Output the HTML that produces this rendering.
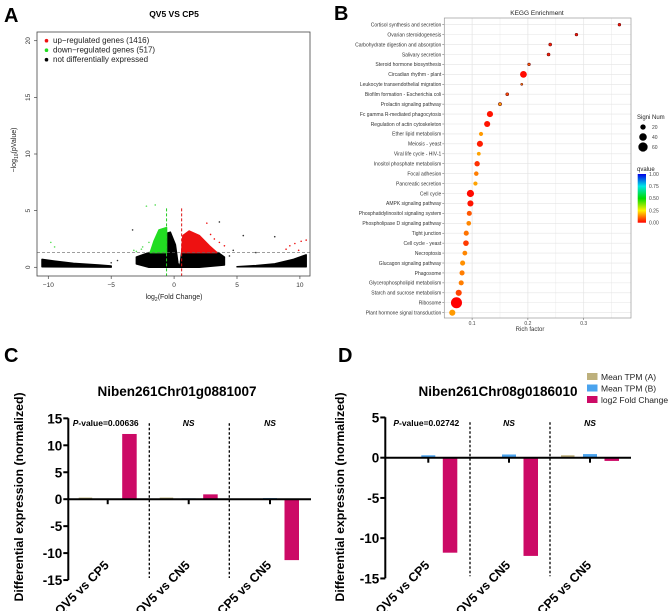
<!DOCTYPE html>
<html><head><meta charset="utf-8"><style>
html,body{margin:0;padding:0;background:#fff;overflow:hidden}
svg{display:block;font-family:"Liberation Sans",Arial,sans-serif}
</style></head><body>
<svg id="fig" width="672" height="611" viewBox="0 0 672 611" xmlns="http://www.w3.org/2000/svg">
<g id="pA"></g>
<g id="pB"></g>
<g id="pC"></g>
<g id="pD"></g>
</svg>
<script>
// ---------- Panel A data ----------
const volcanoBlack = [[-3,0.3],[-3,0.9],[-2,1.3],[-0.6,1.3],[-0.6,3.0],[-0.3,3.1],[0.1,2.0],[0.3,0.4],[0.4,0],[0.5,0.4],[0.6,1.3],[3.5,1.3],[4,0.9],[4,0.2],[2,0],[-2,0]];
const volcanoGreen = [[-1.9,1.3],[-1.6,2.3],[-1.2,3.3],[-0.6,3.5],[-0.6,1.3]];
const volcanoRed = [[0.6,1.3],[0.7,2.8],[1.2,3.2],[2,2.8],[2.8,1.9],[3.4,1.3]];
const volcanoLeftBand = [[-10.5,0.1],[-10.5,0.7],[-9.5,0.55],[-8,0.35],[-6,0.2],[-5,0.12],[-5,0.02],[-10.5,0.05]];
const volcanoRightBand = [[5,0.05],[6.5,0.15],[8,0.3],[9.5,0.7],[10.5,1.1],[10.5,0.05]];
const upPtsX = [9.2,9.6,10.1,10.5,8.9,9.9,3.2,3.6,2.6,4.0,3.0,2.9];
const upPtsY = [1.9,2.1,2.3,2.4,1.6,1.5,2.5,2.2,3.9,1.9,1.6,2.9];
const downPtsX = [-9.8,-9.5,-3.2,-2.5,-2.2,-1.5,-2.0,-3.0,-2.6];
const downPtsY = [2.2,1.8,1.5,1.8,5.4,5.5,2.2,1.4,1.6];
const nsPtsX = [-3.3,3.6,8.0,5.5,-5,6.5,4.7,-4.5,4.4];
const nsPtsY = [3.3,4.0,2.7,2.8,0.4,1.3,1.5,0.6,1.0];
const aXTicks = [-10,-5,0,5,10];
const aYTicks = [0,5,10,15,20];

// ---------- Panel B data ----------
const pathways = ["Cortisol synthesis and secretion","Ovarian steroidogenesis","Carbohydrate digestion and absorption","Salivary secretion","Steroid hormone biosynthesis","Circadian rhythm - plant","Leukocyte transendothelial migration","Biofilm formation - Escherichia coli","Prolactin signaling pathway","Fc gamma R-mediated phagocytosis","Regulation of actin cytoskeleton","Ether lipid metabolism","Meiosis - yeast","Viral life cycle - HIV-1","Inositol phosphate metabolism","Focal adhesion","Pancreatic secretion","Cell cycle","AMPK signaling pathway","Phosphatidylinositol signaling system","Phospholipase D signaling pathway","Tight junction","Cell cycle - yeast","Necroptosis","Glucagon signaling pathway","Phagosome","Glycerophospholipid metabolism","Starch and sucrose metabolism","Ribosome","Plant hormone signal transduction"];
const richFactor = [0.364,0.287,0.240,0.237,0.202,0.192,0.189,0.163,0.150,0.132,0.127,0.116,0.114,0.112,0.109,0.1075,0.106,0.097,0.097,0.095,0.094,0.0895,0.089,0.087,0.083,0.082,0.0805,0.076,0.072,0.0645];
const signNum = [5,5,6,6,5,32,3,6,7,26,26,12,26,10,20,14,12,36,26,18,15,18,22,16,18,18,18,26,85,26];
const qvalue = [0.02,0.02,0.03,0.03,0.1,0.01,0.15,0.08,0.17,0.02,0.02,0.16,0.03,0.17,0.05,0.13,0.17,0.01,0.02,0.09,0.14,0.12,0.06,0.14,0.15,0.13,0.13,0.07,0.0,0.16];
const bXTicks = [0.1,0.2,0.3];
const sizeLegend = [20,40,60];
const qTicks = [1.00,0.75,0.50,0.25,0.00];

// ---------- Panel C/D data ----------
const groups = ["QV5 vs CP5","QV5 vs CN5","CP5 vs CN5"];
const cMeanA = [0.3,0.3,0.1];
const cMeanB = [0.05,0.15,0.2];
const cLog2FC = [12.1,0.9,-11.3];
const cPLabels = ["=0.00636","NS","NS"];
const dMeanA = [0,0,0.3];
const dMeanB = [0.3,0.4,0.45];
const dLog2FC = [-11.8,-12.2,-0.4];
const dPLabels = ["=0.02742","NS","NS"];
const cYTicks = [15,10,5,0,-5,-10,-15];
const dYTicks = [5,0,-5,-10,-15];
const seriesNames = ["Mean TPM (A)","Mean TPM (B)","log2 Fold Change"];

const NS="http://www.w3.org/2000/svg";
function mk(parent, tag, attrs, text){
  const e=document.createElementNS(NS,tag);
  for(const k in attrs) e.setAttribute(k,attrs[k]);
  if(text!==undefined) e.textContent=text;
  parent.appendChild(e); return e;
}

// ================= Panel A =================
(function(){
  const g=document.getElementById('pA');
  const x=v=>174.1+v*12.58, y=v=>267.3-v*11.33;
  let t=mk(g,'text',{x:4,y:22,'font-size':20,'font-weight':'bold'},'A');
  
  
  t=mk(g,'text',{x:174,y:17,'font-size':8.5,'font-weight':'bold','text-anchor':'middle'},'QV5 VS CP5');
  
  
  const poly=(pts,col,name)=>{
    const p=mk(g,'polygon',{points:pts.map(q=>x(q[0])+','+y(q[1])).join(' '),fill:col,stroke:col,'stroke-width':1.5,'stroke-linejoin':'round'});
    
    
  };
  poly(volcanoLeftBand,'#000','ns-density-left');
  poly(volcanoRightBand,'#000','ns-density-right');
  poly(volcanoBlack,'#000','ns-density-center');
  poly(volcanoGreen,'#22dd22','down-regulated-density');
  poly(volcanoRed,'#ee1111','up-regulated-density');
  const pts=(xs,ys,col,name)=>xs.forEach((v,i)=>{
    const c=mk(g,'circle',{cx:x(v),cy:y(ys[i]),r:0.8,fill:col});
    
    
  });
  pts(upPtsX,upPtsY,'#ee1111','up-point');
  pts(downPtsX,downPtsY,'#55dd55','down-point');
  pts(nsPtsX,nsPtsY,'#333','ns-point');
  let l=mk(g,'line',{x1:37,x2:310,y1:y(1.3),y2:y(1.3),stroke:'#666','stroke-width':0.7,'stroke-dasharray':'3,2'});
  
  
  l=mk(g,'line',{x1:x(-0.6),x2:x(-0.6),y1:y(5.2),y2:276,stroke:'#22cc22','stroke-width':1,'stroke-dasharray':'3,2'});
  
  
  l=mk(g,'line',{x1:x(0.6),x2:x(0.6),y1:y(5.2),y2:276,stroke:'#dd1111','stroke-width':1,'stroke-dasharray':'3,2'});
  
  
  const r=mk(g,'rect',{x:37,y:32,width:273,height:244,fill:'none',stroke:'#444','stroke-width':0.8});
  
  
  aXTicks.forEach(v=>{
    mk(g,'line',{x1:x(v),x2:x(v),y1:276,y2:279,stroke:'#444','stroke-width':0.7});
    const tt=mk(g,'text',{x:x(v),y:287,'font-size':6.5,'text-anchor':'middle',fill:'#333'},v===0?'0':(v<0?'\u2212'+(-v):String(v)));
    
    
  });
  aYTicks.forEach(v=>{
    mk(g,'line',{x1:34,x2:37,y1:y(v),y2:y(v),stroke:'#444','stroke-width':0.7});
    const tt=mk(g,'text',{x:30,y:y(v),'font-size':6.5,'text-anchor':'middle',fill:'#333',transform:`rotate(-90 30 ${y(v)})`},String(v));
    
    
  });
  t=mk(g,'text',{x:174,y:299,'font-size':7,'text-anchor':'middle',fill:'#222'});
  t.innerHTML='log<tspan font-size="5" dy="2">2</tspan><tspan dy="-2">(Fold Change)</tspan>';
  
  
  t=mk(g,'text',{x:16,y:150,'font-size':7,'text-anchor':'middle',fill:'#222',transform:'rotate(-90 16 150)'});
  t.innerHTML='\u2212log<tspan font-size="5" dy="2">10</tspan><tspan dy="-2">(pValue)</tspan>';
  
  
  const leg=[['#ee1111','up\u2212regulated genes (1416)'],['#22dd22','down\u2212regulated genes (517)'],['#000','not differentially expressed']];
  leg.forEach((d,i)=>{
    const gy=43+i*9.5;
    const c=mk(g,'circle',{cx:46.5,cy:gy-2.3,r:1.8,fill:d[0]});
    
    
    const tt=mk(g,'text',{x:53,y:gy,'font-size':8,fill:'#222'},d[1]);
    
    
  });
})();

// ================= Panel B =================
(function(){
  const g=document.getElementById('pB');
  const L=444.3,R=631,T=18,B=318;
  const x=v=>416.3+v*558, y=i=>24.7+i*9.93;
  let t=mk(g,'text',{x:334,y:20,'font-size':20,'font-weight':'bold'},'B');
  
  
  t=mk(g,'text',{x:537,y:15,'font-size':6.5,'text-anchor':'middle',fill:'#222'},'KEGG Enrichment');
  
  
  const bg=mk(g,'rect',{x:L,y:T,width:R-L,height:B-T,fill:'#fff'});
  
  
  for(let v=0.05;v<0.4;v+=0.05){ if(x(v)>L&&x(v)<R) mk(g,'line',{x1:x(v),x2:x(v),y1:T,y2:B,stroke:'#e4e4e4','stroke-width':Math.abs(v*10-Math.round(v*10))<0.01?0.7:0.4}); }
  pathways.forEach((p,i)=>mk(g,'line',{x1:L,x2:R,y1:y(i),y2:y(i),stroke:'#e4e4e4','stroke-width':0.6}));
  const qcol=q=>{const s=[[0,[255,0,0]],[0.25,[255,240,0]],[0.5,[0,220,0]],[0.75,[0,230,230]],[1,[0,0,230]]];
    for(let k=0;k<4;k++){if(q<=s[k+1][0]){const f=(q-s[k][0])/0.25;const c=s[k][1].map((a,j)=>Math.round(a+(s[k+1][1][j]-a)*f));return `rgb(${c})`;}}return 'blue';};
  const rad=n=>0.6*Math.sqrt(n);
  pathways.forEach((p,i)=>{
    const c=mk(g,'circle',{cx:x(richFactor[i]),cy:y(i),r:rad(signNum[i]),fill:qcol(qvalue[i]),stroke:signNum[i]<8?'#7a1010':'none','stroke-width':0.6});
    
    
    mk(g,'line',{x1:L-2,x2:L,y1:y(i),y2:y(i),stroke:'#555','stroke-width':0.5});
    const tt=mk(g,'text',{x:L-3,y:y(i)+1.8,'font-size':5,'text-anchor':'end',fill:'#333'},p);
    
    
  });
  const fr=mk(g,'rect',{x:L,y:T,width:R-L,height:B-T,fill:'none',stroke:'#999','stroke-width':0.7});
  
  
  bXTicks.forEach(v=>{
    mk(g,'line',{x1:x(v),x2:x(v),y1:B,y2:B+2,stroke:'#555','stroke-width':0.5});
    const tt=mk(g,'text',{x:x(v),y:B+7,'font-size':5,'text-anchor':'middle',fill:'#444'},String(v));
    
    
  });
  t=mk(g,'text',{x:530,y:331,'font-size':6,'text-anchor':'middle',fill:'#333'},'Rich factor');
  
  
  t=mk(g,'text',{x:637,y:119,'font-size':6,fill:'#222'},'Signi Num');
  
  
  sizeLegend.forEach((n,i)=>{
    const c=mk(g,'circle',{cx:643,cy:127+i*10,r:rad(n),fill:'#000'});
    
    
    const tt=mk(g,'text',{x:652,y:129+i*10,'font-size':5,fill:'#444'},String(n));
    
    
  });
  t=mk(g,'text',{x:637,y:171,'font-size':6,fill:'#222'},'qvalue');
  
  
  const defs=mk(g,'defs',{});
  const lg=mk(defs,'linearGradient',{id:'qgrad',x1:0,y1:1,x2:0,y2:0});
  [[0,'#ff0000'],[0.25,'#fff000'],[0.5,'#00dc00'],[0.75,'#00e6e6'],[1,'#0000e6']].forEach(s=>mk(lg,'stop',{offset:s[0],'stop-color':s[1]}));
  const cb=mk(g,'rect',{x:637.7,y:174,width:8.3,height:48.7,fill:'url(#qgrad)'});
  
  
  qTicks.forEach(v=>{
    const yy=174+(1-v)*48.7;
    const tt=mk(g,'text',{x:649,y:yy+1.8,'font-size':5,fill:'#444'},v.toFixed(2));
    
    
  });
})();

// ================= Panels C & D =================
const COLS=['#bdb07c','#4aa3ee','#cc0a66'];
function barPanel(g,opt){
  const y=v=>opt.y0-v*opt.k;
  let t=mk(g,'text',{x:opt.letterX,y:362,'font-size':20,'font-weight':'bold'},opt.letter);
  
  
  t=mk(g,'text',{x:opt.titleX,y:396,'font-size':13.5,'font-weight':'bold','text-anchor':'middle'},opt.title);
  
  
  t=mk(g,'text',{x:opt.ylabX,y:497,'font-size':12.3,'font-weight':'bold','text-anchor':'middle',transform:`rotate(-90 ${opt.ylabX} 497)`},'Differential expression (normalized)');
  
  
  const series=[opt.a,opt.b,opt.c];
  const off=[[-29,13.5],[-7,14],[14.5,14.5]];
  groups.forEach((gn,i)=>{
    const cx=opt.ticks[i];
    series.forEach((arr,s)=>{
      const v=arr[i]; if(v===0) return;
      const r=mk(g,'rect',{x:cx+off[s][0],y:Math.min(y(v),y(0)),width:off[s][1],height:Math.abs(y(v)-y(0)),fill:COLS[s]});
      
      
    });
    mk(g,'line',{x1:cx,x2:cx,y1:y(0),y2:y(0)+5,stroke:'#000','stroke-width':2});
    const lx=cx+2, ly=opt.labY;
    const lab=mk(g,'text',{x:lx,y:ly,'font-size':12.5,'font-weight':'bold','text-anchor':'end',transform:`rotate(-45 ${lx} ${ly})`},gn);
    
    
    const px=opt.ticks[i]-(i===0?2:0);
    let pl;
    if(opt.p[i]==='NS'){
      pl=mk(g,'text',{x:px,y:opt.pY,'font-size':8.5,'font-weight':'bold','font-style':'italic','text-anchor':'middle'},'NS');
    } else {
      pl=mk(g,'text',{x:px,y:opt.pY,'font-size':8.5,'font-weight':'bold','text-anchor':'middle'});
      pl.innerHTML='<tspan font-style="italic">P</tspan>-value'+opt.p[i];
    }
    
    
  });
  opt.divs.forEach(dx=>{
    const l=mk(g,'line',{x1:dx,x2:dx,y1:opt.top+5,y2:opt.bottom-2,stroke:'#000','stroke-width':1.3,'stroke-dasharray':'2.5,2'});
    
    
  });
  let ax=mk(g,'line',{x1:opt.axX,x2:opt.axX,y1:opt.top,y2:opt.bottom,stroke:'#000','stroke-width':2});
  
  
  ax=mk(g,'line',{x1:opt.axX,x2:opt.axEnd,y1:y(0),y2:y(0),stroke:'#000','stroke-width':2});
  
  
  opt.yt.forEach(v=>{
    mk(g,'line',{x1:opt.axX-5,x2:opt.axX,y1:y(v),y2:y(v),stroke:'#000','stroke-width':2});
    const tt=mk(g,'text',{x:opt.axX-6,y:y(v)+5,'font-size':13.5,'font-weight':'bold','text-anchor':'end'},String(v));
    
    
  });
}
barPanel(document.getElementById('pC'),{letter:'C',letterX:4,title:'Niben261Chr01g0881007',titleX:177,ylabX:23,
  y0:499.2,k:5.39,top:418.3,bottom:580,axX:68.3,axEnd:311,ticks:[107.7,188.7,270],divs:[149.3,229.3],
  a:cMeanA,b:cMeanB,c:cLog2FC,p:cPLabels,pY:426,yt:cYTicks,labY:566});
barPanel(document.getElementById('pD'),{letter:'D',letterX:338,title:'Niben261Chr08g0186010',titleX:498,ylabX:344,
  y0:457.7,k:8.05,top:417.3,bottom:578.3,axX:385.3,axEnd:631,ticks:[428.3,509,590],divs:[470,550],
  a:dMeanA,b:dMeanB,c:dLog2FC,p:dPLabels,pY:426,yt:dYTicks,labY:566});
(function(){
  const g=document.getElementById('pD');
  seriesNames.forEach((n,i)=>{
    const r=mk(g,'rect',{x:587,y:373+i*11.5,width:10.5,height:7,fill:COLS[i]});
    
    
    const t=mk(g,'text',{x:601,y:380+i*11.5,'font-size':8.5,fill:'#222'},n);
    
    
  });
})();
</script>
</body></html>
